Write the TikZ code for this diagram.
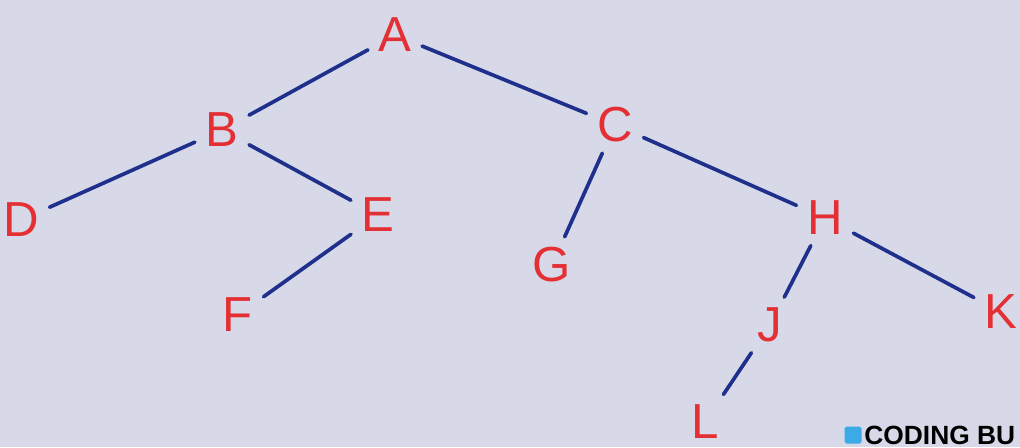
\documentclass[tikz,border=0pt]{standalone}
\usepackage{fontspec}
\setmainfont{Liberation Sans}
\usepackage{tikz}

\definecolor{paper}{RGB}{216,217,232}
\definecolor{ink}{RGB}{228,48,52}
\definecolor{pen}{RGB}{30,48,140}
\definecolor{tgblue}{RGB}{60,170,230}

\begin{document}
\begin{tikzpicture}[
  vtx/.style={inner sep=5pt,text=ink,font=\fontsize{28}{30}\selectfont},
  edge/.style={pen,line width=2.1pt,line cap=round,shorten <=1pt,shorten >=1pt}]

\fill[paper] (0,0) rectangle (20.4,8.94);
\useasboundingbox (0,0) rectangle (20.4,8.94);

\node[vtx] (A) at (7.90,8.24) {A};

\node[vtx] (B) at (4.44,6.34) {B};
\node[vtx] (C) at (12.30,6.44) {C};

\node[vtx] (D) at (0.42,4.54) {D};
\node[vtx] (E) at (7.56,4.64) {E};
\node[vtx] (G) at (11.04,3.64) {G};
\node[vtx] (H) at (16.50,4.58) {H};

\node[vtx] (F) at (4.76,2.64) {F};
\node[vtx] (J) at (15.40,2.44) {J};
\node[vtx] (K) at (20.02,2.70) {K};

\node[vtx] (L) at (14.10,0.50) {L};

\draw[edge] (A)--(B);
\draw[edge] (A)--(C);

\draw[edge] (B)--(D);
\draw[edge] (B)--(E);
\draw[edge] (E)--(F);

\draw[edge] (C)--(G);
\draw[edge] (C)--(H);

\draw[edge] (H)--(J);
\draw[edge] (H)--(K);
\draw[edge] (J)--(L);

\node[fill=tgblue,minimum size=0.34cm,inner sep=0pt,rounded corners=1pt] (logo) at (17.06,0.24) {};
\node[anchor=west,inner sep=0pt,font=\bfseries\fontsize{15}{16}\selectfont] (mark) at (17.28,0.24) {CODING BU};

\end{tikzpicture}
\end{document}
